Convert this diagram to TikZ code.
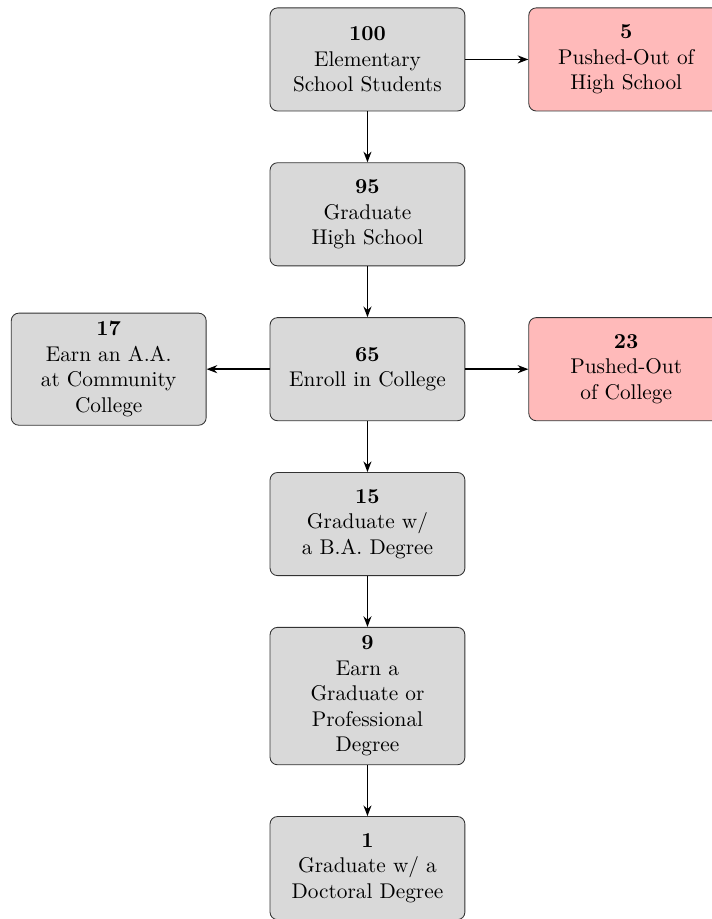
\documentclass[tikz,border=0pt]{standalone}
\usepackage{amsmath, amssymb}
\usetikzlibrary{positioning,arrows.meta}

\begin{document}
\begin{tikzpicture}[
        stage/.style={draw=black!80,
            fill=black!15,
            rounded corners=3.5pt,
            text width=84.8pt,
            align=center,
            minimum height=48.4pt,
            inner sep=3.33pt},
        lost/.style={stage, fill=red!27},
        flow/.style={-{Stealth[length=5pt]}, thick},
        node distance=23.9pt and 29.6pt
    ]
        \useasboundingbox (-172.5pt,27.9pt) rectangle (161.7pt,-403.5pt);

        % Main path
        \node [stage] (elem) at (0,0) {\textbf{100}\\ Elementary\\ School Students};
        \node [stage, below=of elem] (hs) {\textbf{95}\\ Graduate\\ High School};
        \node [stage, below=of hs] (enroll) {\textbf{65}\\ Enroll in College};
        \node [stage, below=of enroll] (ba) {\textbf{15}\\ Graduate w/\\ a B.A. Degree};
        \node [stage, below=of ba, minimum height=64.5pt] (grad) {\textbf{9}\\ Earn a\\ Graduate or\\ Professional\\ Degree};
        \node [stage, below=of grad] (phd) {\textbf{1}\\ Graduate w/ a\\ Doctoral Degree};

        % Side branches
        \node [lost, right=of elem] (ouths) {\textbf{5}\\ Pushed-Out of\\ High School};
        \node [lost, right=of enroll] (outcol) {\textbf{23}\\ Pushed-Out\\ of College};
        \node [stage, left=of enroll, minimum height=52.6pt] (aa) {\textbf{17}\\ Earn an A.A.\\ at Community\\ College};

        % Arrows
        \draw [flow] (elem) -- (hs);
        \draw [flow] (hs) -- (enroll);
        \draw [flow] (enroll) -- (ba);
        \draw [flow] (ba) -- (grad);
        \draw [flow] (grad) -- (phd);
        \draw [flow] (elem) -- (ouths);
        \draw [flow] (enroll) -- (outcol);
        \draw [flow] (enroll) -- (aa);

\end{tikzpicture}
\end{document}
